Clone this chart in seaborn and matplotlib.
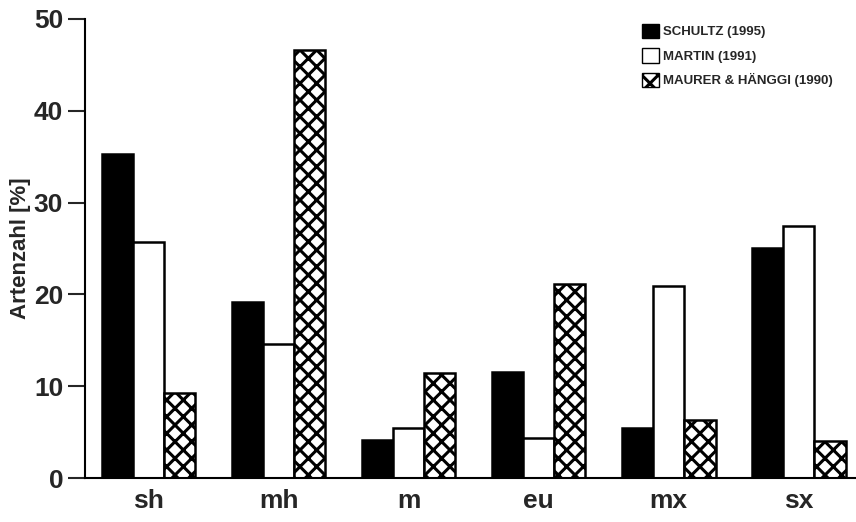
import matplotlib
matplotlib.use("Agg")
import matplotlib.pyplot as plt
from matplotlib.patches import Patch
import seaborn as sns
import pandas as pd

# Data
categories = ["sh", "mh", "m", "eu", "mx", "sx"]
series_names = ["SCHULTZ (1995)", "MARTIN (1991)", "MAURER & HÄNGGI (1990)"]
schultz = [35.3, 19.2, 4.1, 11.5, 5.5, 25.1]
martin = [25.7, 14.6, 5.5, 4.4, 20.9, 27.5]
maurer = [9.3, 46.6, 11.4, 21.1, 6.3, 4.0]

df = pd.DataFrame({
    "cat": categories * 3,
    "series": [series_names[0]] * 6 + [series_names[1]] * 6 + [series_names[2]] * 6,
    "value": schultz + martin + maurer,
})

sns.set_theme(style="white")
plt.rcParams["font.family"] = ["Liberation Sans", "DejaVu Sans"]
plt.rcParams["hatch.linewidth"] = 2.2

fig, ax = plt.subplots(figsize=(8.56, 5.22), dpi=100)
fig.subplots_adjust(left=0.099, right=1.0, top=0.964, bottom=0.084)

colors = ["black", "white", "white"]
hatches = ["", "", "xx"]
sns.barplot(data=df, x="cat", y="value", hue="series", hue_order=series_names,
            palette=colors, edgecolor="black", linewidth=1.8, width=0.72,
            ax=ax, legend=False, saturation=1)

for cont, h in zip(ax.containers, hatches):
    for bar in cont:
        bar.set_hatch(h)

ax.set_ylim(0, 50)
ax.set_xlim(-0.49, 5.44)
ax.set_yticks([0, 10, 20, 30, 40, 50])
ax.set_ylabel("Artenzahl [%]", fontsize=16, fontweight="bold", labelpad=2)
ax.set_xlabel("")
for lab in ax.get_yticklabels() + ax.get_xticklabels():
    lab.set_fontweight("bold")
ax.tick_params(axis="y", labelsize=19, length=12, width=1.5, direction="out", left=True)
ax.tick_params(axis="x", labelsize=19, length=0, pad=8)

for side in ["top", "right"]:
    ax.spines[side].set_visible(False)
for side in ["left", "bottom"]:
    ax.spines[side].set_color("black")
    ax.spines[side].set_linewidth(1.5)

handles = [Patch(facecolor=c, edgecolor="black", hatch=h, label=n)
           for c, h, n in zip(colors, hatches, series_names)]
ax.legend(handles=handles, loc="upper right", bbox_to_anchor=(0.985, 1.015),
          frameon=False, prop={"size": 9.5, "weight": "bold"},
          handlelength=1.3, handleheight=1.3, handletextpad=0.3, labelspacing=0.75)

plt.savefig("out.png", dpi=100)
